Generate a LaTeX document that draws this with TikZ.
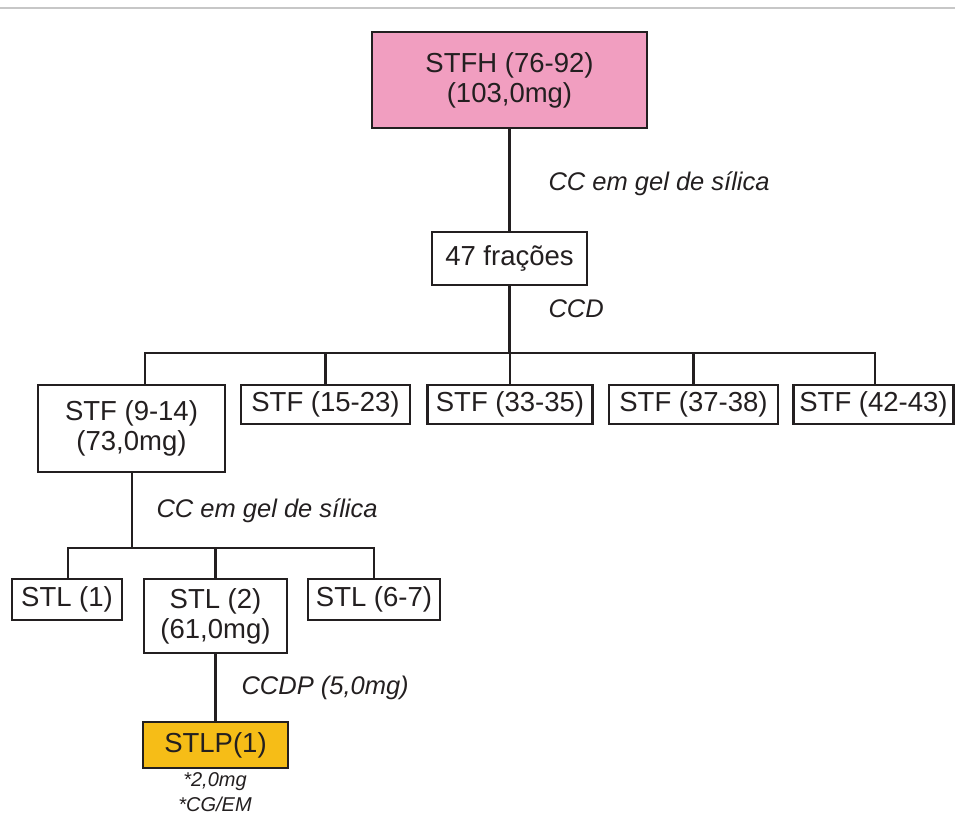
\documentclass[tikz,border=0pt]{standalone}
\usepackage{fontspec}
\setmainfont{Liberation Sans}
\usepackage{tikz}
\usetikzlibrary{positioning,calc}
\definecolor{boxpink}{RGB}{241,158,192}
\definecolor{boxgold}{RGB}{246,189,23}
\definecolor{inkgray}{RGB}{35,31,32}
\tikzset{
    box/.style={
        draw=inkgray,
        line width=2.5pt,
        fill=white,
        inner sep=0pt,
        align=center,
        text=inkgray,
        font=\fontsize{27.5}{30}\selectfont
    },
    % caixas coloridas
    pinkbox/.style={box, fill=boxpink},
    goldbox/.style={box, fill=boxgold},
    steplabel/.style={
        anchor=west,
        text=inkgray,
        font=\fontsize{25.5}{28}\selectfont\itshape
    },
    notelabel/.style={
        text=inkgray,
        font=\fontsize{20}{22}\selectfont\itshape
    },
    link/.style={line width=2.5pt, inkgray}
}
\begin{document}
\begin{tikzpicture}[x=1pt, y=-1pt]
    \useasboundingbox (0,0) rectangle (955,816);
    \draw[line width=1.5pt, black!22] (0,8) -- (955,8);

    % caixas
    \node[pinkbox, minimum width=275, minimum height=96] (stfh) at (509.5,80) {STFH (76-92)\\(103,0mg)};
    \node[box, minimum width=155, minimum height=53] (fr47) at (509.5,258.5) {47 frações};

    \node[box, minimum width=187, minimum height=87] (stfA) at (131.5,428.5) {STF (9-14)\\(73,0mg)};
    \node[box, minimum width=169, minimum height=39] (stfB) at (325.5,404.5) {STF (15-23)};
    \node[box, minimum width=165, minimum height=39] (stfC) at (510,404.5) {STF (33-35)};
    \node[box, minimum width=169, minimum height=39] (stfD) at (693.5,404.5) {STF (37-38)};
    \node[box, minimum width=160, minimum height=39] (stfE) at (873.5,404.5) {STF (42-43)};

    \node[box, minimum width=110, minimum height=41] (stlA) at (67,599.5) {STL (1)};
    \node[box, minimum width=143, minimum height=74] (stlB) at (215.5,616) {STL (2)\\(61,0mg)};
    \node[box, minimum width=132, minimum height=41] (stlC) at (374,599.5) {STL (6-7)};

    \node[goldbox, minimum width=145, minimum height=46] (stlp) at (215.5,745) {STLP(1)};

    %label
    \node[steplabel] (lblA) at (545,184) {CC em gel de sílica};
    \node[steplabel] (lblB) at (545,309) {CCD};
    \node[steplabel] (lblC) at (153,511) {CC em gel de sílica};
    \node[steplabel] (lblD) at (238,688) {CCDP (5,0mg)};
    \node[notelabel] (noteA) at (215,782) {*2,0mg};
    \node[notelabel] (noteB) at (215,804) {*CG/EM};

    % ligacoes
    \coordinate (busA) at (509.5,353);
    \coordinate (busAl) at (145,353);
    \coordinate (busAr) at (875,353);
    \coordinate (busB) at (132,548);
    \coordinate (busBl) at (68,548);
    \coordinate (busBr) at (374,548);

    \draw[link] (stfh) -- (fr47);
    \draw[link] (fr47.south) -- (busA);
    \draw[link] (busAl |- stfA.north) -- (busAl) -- (busAr) -- (busAr |- stfE.north);
    \draw[link] (stfB.north) -- (stfB.north |- busA);
    \draw[link] (stfC.north) -- (stfC.north |- busA);
    \draw[link] (stfD.north) -- (stfD.north |- busA);

    \draw[link] (stfA.south -| busB) -- (busB);
    \draw[link] (busBl |- stlA.north) -- (busBl) -- (busBr) -- (busBr |- stlC.north);
    \draw[link] (stlB.north) -- (stlB.north |- busB);
    \draw[link] (stlB) -- (stlp);
\end{tikzpicture}
\end{document}
